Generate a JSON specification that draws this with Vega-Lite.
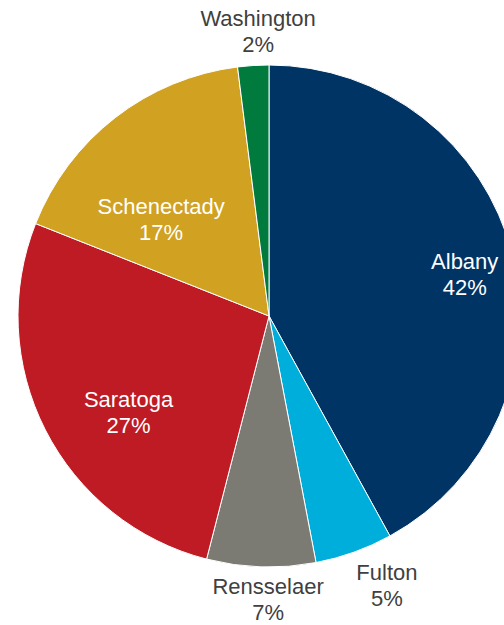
{
  "$schema": "https://vega.github.io/schema/vega-lite/v6.json",
  "width": 538,
  "height": 632,
  "autosize": {"type": "none"},
  "padding": 0,
  "background": "white",
  "config": {"view": {"stroke": null}},
  "data": {"values": [
    {"county": "Albany", "value": 42, "label": "Albany\n42%"},
    {"county": "Fulton", "value": 5, "label": "Fulton\n5%"},
    {"county": "Rensselaer", "value": 7, "label": "Rensselaer\n7%"},
    {"county": "Saratoga", "value": 27, "label": "Saratoga\n27%"},
    {"county": "Schenectady", "value": 17, "label": "Schenectady\n17%"},
    {"county": "Washington", "value": 2, "label": "Washington\n2%"}
  ]},
  "encoding": {
    "theta": {"field": "value", "type": "quantitative", "stack": true},
    "order": {"field": "county", "type": "nominal", "sort": "ascending"}
  },
  "layer": [
    {
      "mark": {"type": "arc", "radius": 251, "stroke": "white", "strokeWidth": 1},
      "encoding": {
        "color": {"field": "county", "type": "nominal", "legend": null,
          "scale": {"domain": ["Albany", "Fulton", "Rensselaer", "Saratoga", "Schenectady", "Washington"],
                    "range": ["#003465", "#00AEDC", "#7B7B74", "#BE1B24", "#D1A122", "#007A3D"]}}
      }
    },
    {
      "mark": {"type": "text", "radius": 200, "dx": 2, "dy": -4, "font": "Liberation Sans", "fontSize": 22, "lineHeight": 26, "lineBreak": "\n", "color": "white", "align": "center", "baseline": "middle"},
      "encoding": {"text": {"condition": {"test": "datum.county === 'Albany'", "field": "label"}, "value": ""}}
    },
    {
      "mark": {"type": "text", "radius": 295, "dx": 18, "dy": -21, "font": "Liberation Sans", "fontSize": 22, "lineHeight": 26, "lineBreak": "\n", "color": "#404040", "align": "center", "baseline": "middle"},
      "encoding": {"text": {"condition": {"test": "datum.county === 'Fulton'", "field": "label"}, "value": ""}}
    },
    {
      "mark": {"type": "text", "radius": 284, "dx": 8, "dy": -13, "font": "Liberation Sans", "fontSize": 22, "lineHeight": 26, "lineBreak": "\n", "color": "#404040", "align": "center", "baseline": "middle"},
      "encoding": {"text": {"condition": {"test": "datum.county === 'Rensselaer'", "field": "label"}, "value": ""}}
    },
    {
      "mark": {"type": "text", "radius": 170, "dx": 11, "dy": 7, "font": "Liberation Sans", "fontSize": 22, "lineHeight": 26, "lineBreak": "\n", "color": "white", "align": "center", "baseline": "middle"},
      "encoding": {"text": {"condition": {"test": "datum.county === 'Saratoga'", "field": "label"}, "value": ""}}
    },
    {
      "mark": {"type": "text", "radius": 145, "dx": -19, "dy": 6, "font": "Liberation Sans", "fontSize": 22, "lineHeight": 26, "lineBreak": "\n", "color": "white", "align": "center", "baseline": "middle"},
      "encoding": {"text": {"condition": {"test": "datum.county === 'Schenectady'", "field": "label"}, "value": ""}}
    },
    {
      "mark": {"type": "text", "radius": 285, "dx": 7, "dy": -13, "font": "Liberation Sans", "fontSize": 22, "lineHeight": 26, "lineBreak": "\n", "color": "#404040", "align": "center", "baseline": "middle"},
      "encoding": {"text": {"condition": {"test": "datum.county === 'Washington'", "field": "label"}, "value": ""}}
    }
  ]
}
